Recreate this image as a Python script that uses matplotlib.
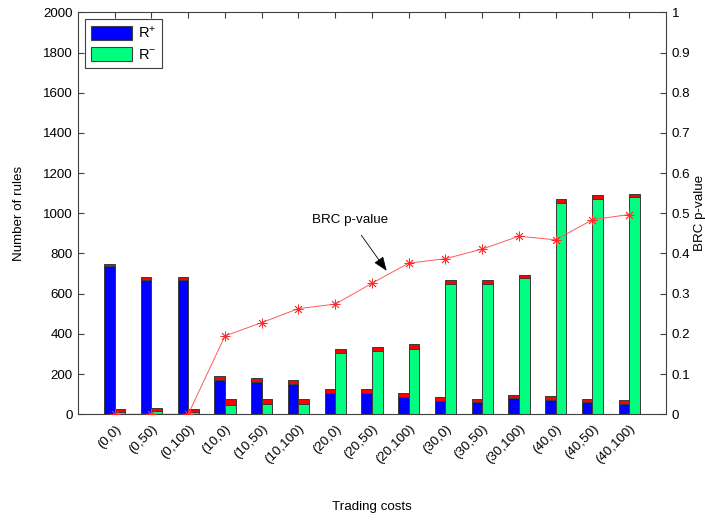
import matplotlib
matplotlib.use('Agg')
import matplotlib.pyplot as plt
import numpy as np
from matplotlib.patches import Patch

plt.rcParams['font.family'] = ['Liberation Sans', 'DejaVu Sans']
plt.rcParams['mathtext.fontset'] = 'custom'
plt.rcParams['mathtext.rm'] = 'Liberation Sans'
plt.rcParams['mathtext.it'] = 'Liberation Sans'
plt.rcParams['font.size'] = 9.6

categories = ['(0,0)', '(0,50)', '(0,100)', '(10,0)', '(10,50)', '(10,100)',
              '(20,0)', '(20,50)', '(20,100)', '(30,0)', '(30,50)', '(30,100)',
              '(40,0)', '(40,50)', '(40,100)']
r_plus = [737, 666, 666, 169, 162, 149, 106, 106, 86, 68, 59, 79, 72, 59, 50]
r_plus_red = [12, 15, 18, 19, 19, 21, 19, 19, 18, 19, 18, 18, 19, 18, 21]
r_minus = [10, 15, 10, 48, 53, 53, 306, 317, 327, 648, 647, 676, 1051, 1069, 1079]
r_minus_red = [15, 15, 15, 26, 23, 21, 19, 20, 23, 21, 22, 19, 20, 22, 18]
brc_p = [0, 0, 0, 0.195, 0.228, 0.263, 0.274, 0.326, 0.376, 0.387, 0.411,
         0.443, 0.434, 0.484, 0.497]

blue = '#0000FF'
green = '#00FF80'
red = '#FF0000'
edge = '#404040'
bar_edge = '#3a3a3a'

fig = plt.figure(figsize=(7.05, 5.2), dpi=100)
ax = fig.add_axes([0.1106, 0.2033, 0.834, 0.7730])

x = np.arange(1, len(categories) + 1)
w = 0.29
ax.bar(x - w / 2, r_plus, w, color=blue, edgecolor=bar_edge, linewidth=0.7)
ax.bar(x - w / 2, r_plus_red, w, bottom=r_plus, color=red, edgecolor=bar_edge, linewidth=0.7)
ax.bar(x + w / 2, r_minus, w, color=green, edgecolor=bar_edge, linewidth=0.7)
ax.bar(x + w / 2, r_minus_red, w, bottom=r_minus, color=red, edgecolor=bar_edge, linewidth=0.7)

ax.set_xlim(0, 16)
ax.set_ylim(0, 2000)
ax.set_yticks(np.arange(0, 2001, 200))
ax.set_xticks(x)
ax.set_xticklabels(categories, rotation=45, ha='right', va='top', rotation_mode='anchor')
ax.tick_params(axis='x', direction='in', top=True, bottom=True, length=4, pad=6,
               color=edge, width=0.8)
ax.tick_params(axis='y', direction='in', left=True, right=False, length=4, pad=4,
               color=edge, width=0.8)
for s in ax.spines.values():
    s.set_color(edge)
    s.set_linewidth(0.8)

ax.set_ylabel('Number of rules')
ax.yaxis.set_label_coords(-0.09, 0.5)
ax.set_xlabel('Trading costs')
ax.xaxis.set_label_coords(0.5, -0.216)

leg = ax.legend(handles=[Patch(facecolor=blue, edgecolor=edge, linewidth=0.8, label=r'R$^{+}$'),
                         Patch(facecolor=green, edgecolor=edge, linewidth=0.8, label=r'R$^{-}$')],
                loc='upper left', bbox_to_anchor=(0.012, 0.984), borderaxespad=0,
                fancybox=False, framealpha=1, edgecolor='#404040', fontsize=10.5,
                handlelength=2.8, handleheight=1.1, labelspacing=0.4,
                handletextpad=0.4, borderpad=0.42)
leg.get_frame().set_linewidth(0.8)

ax2 = ax.twinx()
ax2.set_ylim(0, 1)
ax2.set_yticks(np.arange(0, 1.01, 0.1))
ax2.set_yticklabels(['0'] + ['%.1f' % v for v in np.arange(0.1, 0.95, 0.1)] + ['1'])
ax2.tick_params(axis='y', direction='in', length=4, pad=4, color=edge, width=0.8)
for s in ax2.spines.values():
    s.set_visible(False)
ax2.plot(x, brc_p, color='#ff5a5a', linewidth=0.7, marker=(8, 2, 0),
         markersize=7, markeredgewidth=0.6, markeredgecolor='#ff2a2a', zorder=5)
ax2.set_ylabel('BRC p-value')
ax2.yaxis.set_label_coords(1.0476, 0.5)

ax2.annotate('BRC p-value', xy=(8.40, 0.357), xytext=(7.41, 0.484),
             ha='center', va='center',
             arrowprops=dict(arrowstyle='-|>,head_length=0.9,head_width=0.35',
                             color='black', linewidth=0.6, shrinkA=6, shrinkB=0))

fig.savefig('out.png', dpi=100)
